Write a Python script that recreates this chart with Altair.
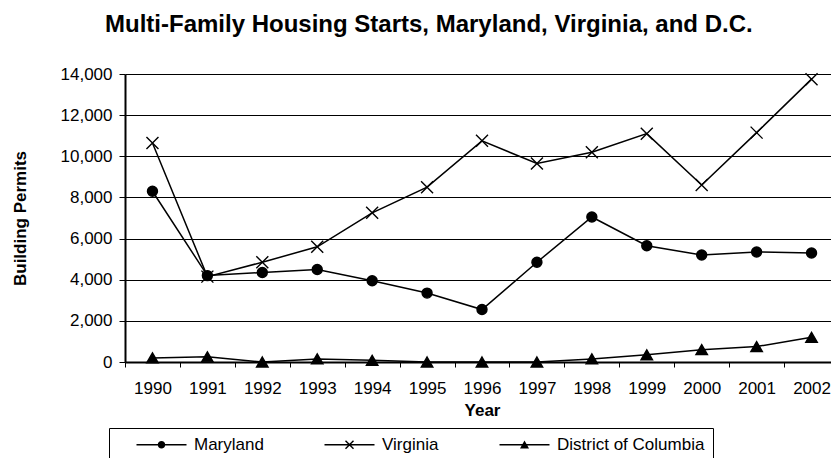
import altair as alt
import pandas as pd

years = ["1990", "1991", "1992", "1993", "1994", "1995", "1996",
         "1997", "1998", "1999", "2000", "2001", "2002"]
maryland = [8300, 4200, 4350, 4500, 3950, 3350, 2550, 4850, 7050, 5650, 5200, 5350, 5300]
virginia = [10650, 4150, 4850, 5600, 7250, 8500, 10750, 9650, 10200, 11100, 8600, 11150, 13750]
dc = [200, 250, 0, 150, 80, 0, 0, 0, 150, 350, 600, 750, 1200]
series_names = ["Maryland", "Virginia", "District of Columbia"]
y_ticks = [0, 2000, 4000, 6000, 8000, 10000, 12000, 14000]

rows = []
for name, vals in zip(series_names, [maryland, virginia, dc]):
    for yr, v in zip(years, vals):
        rows.append({"year": yr, "value": v, "series": name})
df = pd.DataFrame(rows)

FONT = "Liberation Sans"

plot_shapes = [
    "circle",
    "M-1.2,-1.2L1.2,1.2M-1.2,1.2L1.2,-1.2",
    "M0,-1L1.15,1L-1.15,1Z",
]
# legend symbols (filled outlines only): size 100 -> 5px per unit; a 50px line with the marker in the middle
LINE = "M-5,-0.15L-5,0.15L5,0.15L5,-0.15Z"
legend_shapes = [
    LINE + "M-0.75,0A0.75,0.75 0 1,0 0.75,0A0.75,0.75 0 1,0 -0.75,0Z",
    LINE + "M-0.9,-0.7L0.7,0.9L0.9,0.7L-0.7,-0.9ZM-0.7,0.9L0.9,-0.7L0.7,-0.9L-0.9,0.7Z",
    LINE + "M0,-0.85L-0.9,0.75L0.9,0.75Z",
]

x_enc = alt.X(
    "year:O",
    sort=years,
    bandPosition=0.5,
    scale=alt.Scale(type="band", paddingInner=0, paddingOuter=0, range=[0, 714]),
    axis=alt.Axis(
        title="Year",
        labelAngle=0,
        tickBand="extent",
        grid=False,
        domainColor="black",
        domainWidth=2,
        tickColor="black",
        tickWidth=1,
        tickSize=5,
        labelFont=FONT,
        labelFontSize=17,
        labelColor="black",
        labelPadding=13,
        titleFont=FONT,
        titleFontSize=17,
        titleFontWeight="bold",
        titleColor="black",
        titlePadding=6,
    ),
)
y_enc = alt.Y(
    "value:Q",
    scale=alt.Scale(domain=[0, 14000], nice=False),
    axis=alt.Axis(
        title="Building Permits",
        values=y_ticks,
        format=",d",
        grid=True,
        gridColor="black",
        gridWidth=1,
        domainColor="black",
        domainWidth=2,
        tickColor="black",
        tickSize=6,
        labelFont=FONT,
        labelFontSize=17,
        labelColor="black",
        labelPadding=7,
        titleFont=FONT,
        titleFontSize=17,
        titleFontWeight="bold",
        titleColor="black",
        titlePadding=31,
    ),
)

lines = alt.Chart(df).mark_line(color="black", strokeWidth=1.5).encode(
    x=x_enc,
    y=y_enc,
    detail="series:N",
)

points = alt.Chart(df).mark_point(
    filled=True, fill="black", stroke="black", strokeWidth=1.4, size=100, opacity=1
).encode(
    x=x_enc,
    y=y_enc,
    shape=alt.Shape(
        "series:N",
        scale=alt.Scale(domain=series_names, range=plot_shapes),
        legend=None,
    ),
)

legend_layer = alt.Chart(df).mark_point(
    filled=True, color="black", opacity=0
).encode(
    x=x_enc,
    y=y_enc,
    shape=alt.Shape(
        "series:N",
        scale=alt.Scale(domain=series_names, range=legend_shapes),
        legend=alt.Legend(
            title=" ",
            titleOrient="left",
            titlePadding=16,
            orient="none",
            legendX=-16,
            legendY=354,
            direction="horizontal",
            columns=3,
            symbolSize=100,
            symbolOffset=20,
            symbolFillColor="black",
            symbolOpacity=1,
            labelFont=FONT,
            labelFontSize=17,
            labelColor="black",
            labelOffset=24,
            columnPadding=57,
            padding=8,
            strokeColor="black",
            fillColor="white",
            labelExpr="datum.label == 'District of Columbia' ? datum.label + '\u00a0\u00a0\u00a0\u00a0\u00a0\u00a0' : datum.label",
        ),
    ),
)

chart = (
    alt.layer(lines, points, legend_layer)
    .resolve_scale(shape="independent")
    .properties(
        width=706,
        height=288,
        autosize=alt.AutoSizeParams(type="none"),
        padding={"left": 117, "top": 66, "right": 0, "bottom": 96},
        title=alt.TitleParams(
            "Multi-Family Housing Starts, Maryland, Virginia, and D.C.",
            font=FONT,
            fontSize=24,
            fontWeight="bold",
            color="black",
            anchor="start",
            frame="group",
            dx=-20,
            offset=28,
        ),
        background="white",
    )
    .configure_view(stroke=None)
)

chart.save("out.html", embed_options={"renderer": "svg", "actions": False})
